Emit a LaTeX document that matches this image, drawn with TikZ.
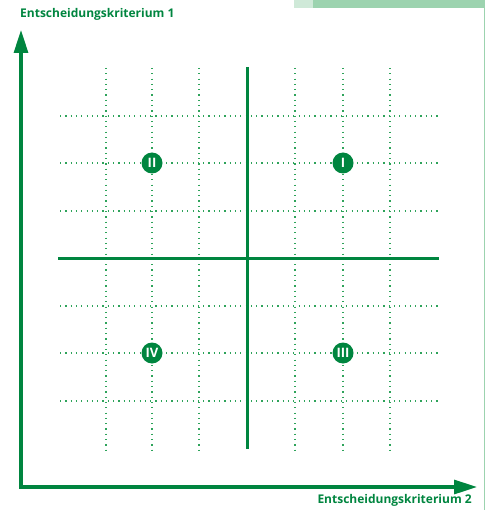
\documentclass[tikz,border=0pt]{standalone}
\usepackage{fontspec}
\setmainfont{Open Sans}
\usetikzlibrary{arrows.meta}
\definecolor{Ink}{HTML}{00853F}
\definecolor{Dots}{HTML}{2EA35A}
\definecolor{Band}{HTML}{9CD3AF}
\definecolor{LightBand}{HTML}{CFE9D8}
\begin{document}
\begin{tikzpicture}[x=1pt,y=-1pt,
    ax/.style={draw=Ink,line width=3.2pt,-{Triangle[length=23pt,width=14pt]}},
    cross/.style={draw=Ink,line width=3pt},
    grid/.style={draw=Dots,line width=1.2pt,dash pattern=on 1.2pt off 4.1pt},
    q/.style={circle,fill=Ink,text=white,minimum size=21pt,inner sep=0pt,font=\bfseries\fontsize{13}{13}\selectfont},
    lab/.style={text=Ink,inner sep=0pt,font=\bfseries\fontsize{12}{14}\selectfont}
  ]
    \useasboundingbox (0,0) rectangle (485,510);
    % top band and right edge
    \fill[LightBand] (294,0) rectangle (313,8);
    \fill[Band] (313,0) rectangle (485,8);
    \fill[Band] (483.5,0) rectangle (485,510);
    % dotted grid
    \foreach \x in {106,152,199,295,343,390} \draw[grid] (\x,68) -- (\x,450);
    \foreach \y in {116,163,211,306,353,401} \draw[grid] (60,\y) -- (438,\y);
    % cross
    \coordinate (top) at (247,67); \coordinate (bot) at (247,449);
    \coordinate (lft) at (58,258); \coordinate (rgt) at (439,258);
    \draw[cross] (top) -- (bot);
    \draw[cross] (lft) -- (rgt);
    % axes
    \coordinate (o) at (21,487);
    \coordinate (ytip) at (21,30);
    \coordinate (xtip) at (477,487);
    \draw[ax] (o) -- (ytip);
    \draw[ax] ([xshift=-1.6pt]o) -- (xtip);
    \node[lab,anchor=west] (ylab) at (20,14) {Entscheidungskriterium 1};
    \node[lab,anchor=east] (xlab) at (472,500) {Entscheidungskriterium 2};
    % quadrants
    \node[q] (q1) at (343,163) {I};
    \node[q] (q2) at (152,163) {II};
    \node[q] (q3) at (343,353) {III};
    \node[q] (q4) at (152,353) {IV};
  \end{tikzpicture}
\end{document}
